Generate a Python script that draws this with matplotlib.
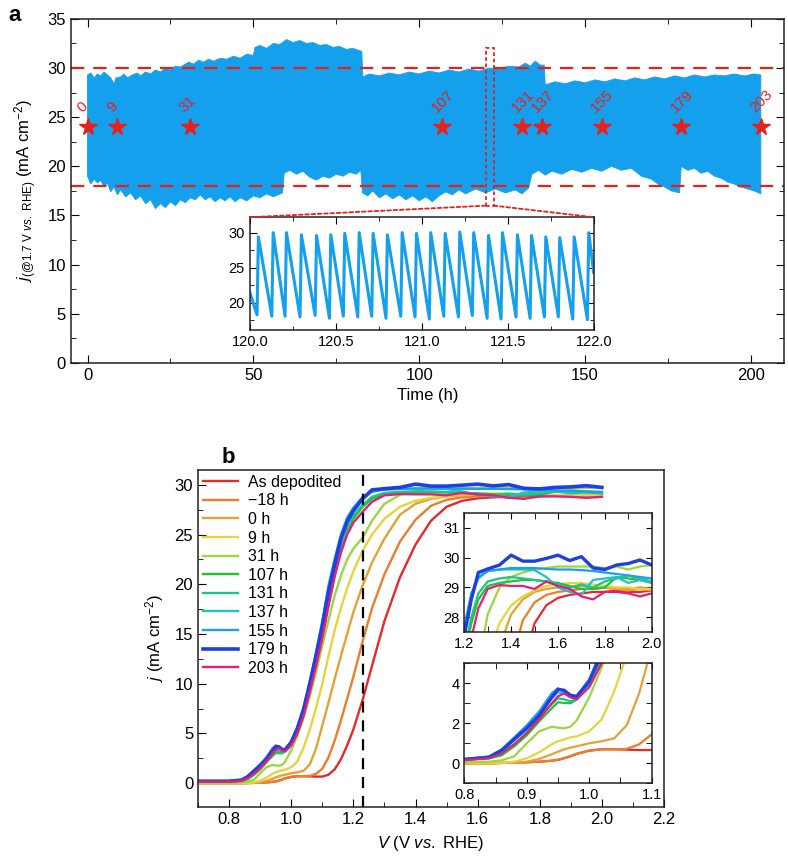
import matplotlib
matplotlib.use("Agg")
import matplotlib.pyplot as plt
from matplotlib.patches import Rectangle, ConnectionPatch
from matplotlib.ticker import MultipleLocator, FormatStrFormatter

plt.rcParams['font.family'] = ['Liberation Sans', 'DejaVu Sans']
plt.rcParams['mathtext.fontset'] = 'custom'
plt.rcParams['mathtext.rm'] = 'Liberation Sans'
plt.rcParams['mathtext.it'] = 'Liberation Sans:italic'
plt.rcParams['mathtext.bf'] = 'Liberation Sans:bold'
plt.rcParams['axes.linewidth'] = 1.1
plt.rcParams['axes.edgecolor'] = '#222222'

# ---------------- panel a : long-term test ----------------
# upper / lower envelope of the oscillating current (h, mA cm-2)
up_t = [0, 1, 2, 3, 4, 5, 6, 7, 8, 8.6, 10, 11, 12, 13.5, 15, 16, 17.5, 19, 20.5, 22,
        23.5, 25, 26.5, 28, 29.5, 30.5, 32, 33.5, 35, 36.5, 38, 40, 42, 44, 46, 48, 50, 50.5, 52, 54,
        56, 58, 60, 62, 64, 66, 68, 70, 72, 74, 76, 78, 80, 82.7, 83, 85, 88, 91, 94, 97,
        100, 103, 106, 109, 112, 115, 118, 121, 124, 127, 130, 132, 133.5, 135, 136.5, 137.7, 138, 141, 144, 147,
        150, 153, 156, 159, 162, 165, 168, 171, 174, 177, 180, 183, 186, 189, 192, 195, 198, 201, 203]
up_j = [29.3, 29.5, 29.0, 29.4, 29.2, 29.6, 29.3, 29.0, 28.4, 29.0, 29.1, 29.4, 29.0, 29.3, 29.5, 29.2, 29.6, 29.4, 29.8, 29.6,
        30.0, 29.8, 30.2, 30.1, 30.4, 30.6, 30.4, 30.8, 30.6, 30.9, 30.7, 31.0, 30.9, 31.2, 31.0, 31.4, 31.3, 32.1, 32.3, 32.0,
        32.5, 32.4, 32.9, 32.6, 32.8, 32.5, 32.6, 32.3, 32.4, 32.1, 32.2, 31.9, 32.0, 31.7, 29.1, 29.4, 29.2, 29.5, 29.3, 29.6,
        29.4, 29.7, 29.5, 29.8, 29.6, 29.9, 29.7, 30.0, 29.9, 30.2, 30.1, 30.5, 30.2, 30.7, 30.3, 30.3, 28.3, 28.6, 28.4, 28.7,
        28.5, 28.8, 28.6, 28.9, 28.7, 29.0, 28.8, 29.1, 28.9, 29.2, 29.0, 29.3, 29.1, 29.3, 29.2, 29.4, 29.2, 29.4, 29.3]
low_t = [0, 1, 2, 3, 4, 5, 6, 7, 8, 9, 10, 11.5, 13, 14.5, 16, 17.5, 19, 20.5, 22, 23.5,
         25, 26.5, 28, 29.5, 31, 32.5, 34, 35.5, 37, 38.5, 40, 41.5, 43, 44.5, 46, 48, 50, 52, 54, 56,
         58.8, 59.3, 61, 63, 65, 67, 69, 71, 73, 75, 77, 79, 81, 82.4, 82.9, 84.5, 86, 88, 90, 92,
         94, 96, 98, 100, 102, 104, 106, 108, 110, 112, 114, 117, 120, 123, 126, 129, 131, 133, 134, 136,
         138, 140, 143, 146, 149, 152, 155, 158, 161, 164, 167, 170, 172, 174, 176, 178.5, 179, 181, 183, 185,
         187, 189, 191, 193, 195, 197, 199, 201, 203]
low_j = [19.0, 18.2, 18.7, 18.3, 18.6, 17.9, 18.3, 17.4, 17.9, 17.1, 17.6, 16.9, 17.3, 16.6, 17.0, 16.2, 16.6, 15.7, 16.2, 15.8,
         16.4, 16.0, 16.6, 16.3, 16.8, 16.6, 17.1, 16.6, 16.9, 16.4, 16.8, 16.5, 16.9, 16.4, 16.8, 16.5, 17.0, 16.8, 17.2, 16.9,
         17.3, 19.3, 19.6, 19.2, 19.5, 18.9, 18.6, 19.0, 18.8, 19.2, 19.0, 19.4, 19.2, 19.6, 17.3, 17.0, 17.5, 16.8, 17.2, 16.7,
         17.1, 16.6, 17.0, 16.5, 16.9, 16.4, 17.0, 17.4, 17.1, 17.6, 17.2, 17.7, 17.3, 17.7, 17.3, 17.6, 17.2, 17.8, 19.2, 19.6,
         19.1, 19.5, 19.2, 19.7, 19.4, 19.8, 19.5, 20.0, 19.6, 19.8, 19.0, 18.7, 18.2, 17.9, 17.5, 17.3, 20.0, 19.6, 19.8, 19.3,
         19.5, 19.0, 18.8, 18.4, 18.2, 17.9, 17.7, 17.5, 17.2]

star_times = [0, 9, 31, 107, 131, 137, 155, 179, 203]
star_level = 24
limit_hi = 30
limit_lo = 18

# zoomed cycles 120-122 h
trough_t = [120.042, 120.128, 120.205, 120.292, 120.380, 120.463, 120.544, 120.628, 120.709, 120.792, 120.878, 120.961,
            121.044, 121.128, 121.213, 121.294, 121.380, 121.461, 121.548, 121.630, 121.713, 121.794, 121.878, 121.963]
trough_j = [18.3, 18.1, 18.1, 18.0, 18.2, 17.8, 18.1, 18.0, 18.1, 17.8, 18.1, 18.0,
            17.7, 18.1, 18.0, 18.2, 17.8, 17.7, 18.0, 17.8, 18.0, 18.0, 17.7, 17.6]
peak_t = [120.050, 120.136, 120.213, 120.300, 120.388, 120.471, 120.552, 120.636, 120.717, 120.800, 120.886, 120.969,
          121.052, 121.136, 121.221, 121.302, 121.388, 121.469, 121.556, 121.638, 121.721, 121.802, 121.886, 121.971]
peak_j = [29.4, 30.0, 30.0, 29.7, 29.6, 29.7, 29.9, 30.0, 29.9, 29.7, 30.0, 29.9,
          30.0, 29.9, 30.1, 30.0, 29.6, 30.0, 29.7, 29.6, 29.4, 29.3, 29.4, 30.0]
cycle_start = (120.0, 21.5)
cycle_end = (122.0, 24.3)

# ---------------- panel b : polarisation curves ----------------
V = [0.70, 0.80, 0.84, 0.86, 0.88, 0.90, 0.92, 0.94, 0.95, 0.96,
     0.97, 0.98, 1.00, 1.02, 1.04, 1.06, 1.08, 1.10, 1.12, 1.14,
     1.16, 1.18, 1.20, 1.23, 1.26, 1.30, 1.35, 1.40, 1.45, 1.50,
     1.55, 1.60, 1.65, 1.70, 1.75, 1.80, 1.85, 1.90, 1.95, 2.00]

j_asdep = [0.00, 0.00, 0.00, 0.02, 0.03, 0.05, 0.08, 0.13, 0.17, 0.25,
           0.35, 0.47, 0.63, 0.70, 0.70, 0.68, 0.66, 0.66, 0.85, 1.40,
           2.40, 3.80, 5.40, 8.40, 11.8, 16.3, 20.7, 24.0, 26.4, 27.8,
           28.4, 28.65, 28.75, 28.8, 28.85, 28.85, 28.9, 28.85, 28.85, 28.9]
j_m18 = [0.00, 0.00, 0.00, 0.02, 0.03, 0.05, 0.08, 0.13, 0.18, 0.26,
         0.36, 0.48, 0.64, 0.70, 0.70, 0.72, 0.95, 1.45, 2.6, 4.3,
         6.3, 8.5, 10.7, 14.3, 17.6, 21.0, 24.3, 26.5, 27.9, 28.5,
         28.75, 28.85, 28.9, 28.95, 28.95, 29.0, 28.95, 28.95, 29.0, 28.95]
j_0 = [0.00, 0.00, 0.00, 0.01, 0.03, 0.08, 0.22, 0.45, 0.58, 0.70,
       0.78, 0.85, 1.00, 1.10, 1.25, 1.90, 3.50, 5.80, 8.1, 10.5,
       12.8, 15.0, 17.2, 19.9, 22.2, 24.6, 27.0, 28.1, 28.6, 28.85,
       28.95, 29.0, 29.0, 29.05, 29.0, 29.0, 28.95, 28.9, 28.95, 28.9]
j_9 = [0.00, 0.00, 0.00, 0.02, 0.08, 0.25, 0.55, 0.95, 1.10, 1.20,
       1.30, 1.35, 1.60, 2.20, 3.60, 5.40, 7.60, 10.0, 12.8, 15.4,
       17.6, 19.6, 21.3, 23.4, 25.0, 26.6, 27.8, 28.4, 28.7, 28.9,
       29.05, 29.1, 29.15, 29.15, 29.1, 29.05, 29.0, 29.0, 28.95, 28.95]
j_31 = [0.05, 0.05, 0.08, 0.15, 0.35, 1.00, 1.60, 1.83, 1.78, 1.75,
        1.83, 2.15, 3.30, 4.80, 6.60, 8.80, 11.2, 13.8, 16.4, 18.9,
        20.9, 22.5, 23.6, 24.7, 26.4, 28.1, 29.0, 29.35, 29.5, 29.6,
        29.65, 29.7, 29.7, 29.7, 29.7, 29.65, 29.7, 29.6, 29.7, 29.75]
j_107 = [0.20, 0.20, 0.25, 0.40, 0.85, 1.40, 2.10, 2.75, 3.05, 3.02,
         3.00, 3.20, 3.85, 5.20, 7.00, 9.40, 12.0, 14.8, 18.0, 21.0,
         23.5, 25.3, 26.6, 27.8, 28.6, 29.05, 29.15, 29.2, 29.25, 29.25,
         29.2, 29.15, 29.05, 28.95, 28.95, 29.0, 29.35, 29.3, 29.25, 29.15]
j_131 = [0.20, 0.20, 0.27, 0.50, 0.95, 1.55, 2.30, 2.95, 3.25, 3.20,
         3.10, 3.20, 3.95, 5.30, 7.20, 9.60, 12.3, 15.2, 18.4, 21.3,
         23.8, 25.6, 26.9, 28.0, 28.8, 29.2, 29.3, 29.35, 29.3, 29.25,
         29.2, 29.1, 29.0, 29.1, 29.0, 29.2, 29.3, 29.4, 29.3, 29.2]
j_137 = [0.20, 0.20, 0.30, 0.60, 1.15, 1.75, 2.45, 3.25, 3.55, 3.50,
         3.30, 3.25, 4.05, 5.50, 7.50, 10.1, 13.0, 16.0, 19.6, 22.4,
         24.8, 26.6, 27.6, 28.7, 29.3, 29.55, 29.6, 29.6, 29.6, 29.58,
         29.35, 29.0, 28.85, 28.75, 29.25, 29.3, 29.35, 29.15, 29.25, 29.2]
j_155 = [0.20, 0.20, 0.35, 0.70, 1.30, 1.90, 2.60, 3.50, 3.75, 3.60,
         3.35, 3.35, 4.20, 5.70, 7.70, 10.3, 13.2, 16.3, 19.9, 22.6,
         25.0, 26.7, 27.7, 28.8, 29.35, 29.55, 29.6, 29.65, 29.65, 29.65,
         29.62, 29.6, 29.6, 29.58, 29.55, 29.5, 29.45, 29.4, 29.35, 29.3]
j_179 = [0.20, 0.20, 0.30, 0.65, 1.20, 1.75, 2.40, 3.30, 3.70, 3.65,
         3.40, 3.35, 4.10, 5.50, 7.40, 10.0, 12.8, 15.8, 19.2, 22.0,
         24.6, 26.3, 27.4, 28.6, 29.5, 29.62, 29.75, 30.08, 29.88, 29.88,
         29.97, 30.08, 29.9, 30.03, 29.65, 29.6, 29.75, 29.8, 29.92, 29.75]
j_203 = [0.15, 0.15, 0.25, 0.50, 0.95, 1.50, 2.20, 3.00, 3.35, 3.50,
         3.30, 3.20, 3.80, 5.00, 6.80, 9.20, 11.8, 14.6, 17.8, 20.8,
         23.2, 25.0, 26.2, 27.3, 28.3, 28.95, 29.08, 29.05, 29.05, 28.95,
         29.2, 29.05, 28.95, 28.7, 28.6, 28.85, 28.85, 28.8, 28.7, 28.8]

curve_labels = ['As depodited', '\u221218 h', '0 h', '9 h', '31 h', '107 h',
                '131 h', '137 h', '155 h', '179 h', '203 h']
curve_data = [j_asdep, j_m18, j_0, j_9, j_31, j_107, j_131, j_137, j_155, j_179, j_203]
curve_colors = ['#e8282c', '#ee7c2c', '#e3a234', '#e6d43c', '#9cd640', '#22c42c',
                '#1fc28c', '#22c2c4', '#1c9fe6', '#1f3fe0', '#e2207c']

blue = '#14a0ec'
red = '#e8201c'

fig = plt.figure(figsize=(7.88, 8.6), dpi=100)

# ---- panel a
ax = fig.add_axes([0.090, 0.578, 0.905, 0.400])
ax.fill(up_t + low_t[::-1], up_j + low_j[::-1], color=blue, lw=0.6, ec=blue)
ax.axhline(limit_hi, color=red, ls=(0, (6, 4)), lw=1.6)
ax.axhline(limit_lo, color=red, ls=(0, (6, 4)), lw=1.6)
ax.plot(star_times, [star_level] * len(star_times), ls='none', marker='*',
        ms=13, color=red, mec=red)
for t in star_times:
    ax.text(t - 1.0, star_level + 1.2, str(t), color=red, fontsize=11,
            rotation=45, rotation_mode='anchor', ha='left', va='bottom')
ax.add_patch(Rectangle((120.0, 16.0), 2.5, 16.0, fill=False, ec=red,
                       lw=1.3, ls=(0, (2, 1.5))))
ax.set_xlim(-5, 210)
ax.set_ylim(0, 35)
ax.xaxis.set_major_locator(MultipleLocator(50))
ax.xaxis.set_minor_locator(MultipleLocator(25))
ax.yaxis.set_major_locator(MultipleLocator(5))
ax.yaxis.set_minor_locator(MultipleLocator(2.5))
ax.tick_params(which='both', direction='in', top=True, right=True, labelsize=12)
ax.tick_params(which='major', length=6)
ax.tick_params(which='minor', length=3.5)
ax.set_xlabel('Time (h)', fontsize=12, labelpad=4)
ax.set_ylabel(r'$j_{\mathrm{(@1.7\ V\ }\mathit{vs.}\mathrm{\ RHE)}}$ (mA cm$^{-2}$)',
              fontsize=12, labelpad=6)
fig.text(0.010, 0.982, 'a', fontsize=16, fontweight='bold', va='center')

# inset of panel a
axi = fig.add_axes([0.317, 0.616, 0.4365, 0.1314])
cyc_t = [cycle_start[0]]
cyc_j = [cycle_start[1]]
for tt, jt, tp, jp in zip(trough_t, trough_j, peak_t, peak_j):
    cyc_t += [tt, tp]
    cyc_j += [jt, jp]
cyc_t.append(cycle_end[0])
cyc_j.append(cycle_end[1])
axi.plot(cyc_t, cyc_j, color=blue, lw=2.2)
axi.set_xlim(120, 122)
axi.set_ylim(16.1, 32.2)
axi.xaxis.set_major_locator(MultipleLocator(0.5))
axi.xaxis.set_minor_locator(MultipleLocator(0.25))
axi.xaxis.set_major_formatter(FormatStrFormatter('%.1f'))
axi.yaxis.set_major_locator(MultipleLocator(5))
axi.yaxis.set_minor_locator(MultipleLocator(2.5))
axi.tick_params(which='both', direction='in', top=True, right=True, labelsize=10.5)
axi.tick_params(which='major', length=5)
axi.tick_params(which='minor', length=3)
for xa, xb in [((120.0, 16.0), (0, 1)), ((122.5, 16.0), (1, 1))]:
    con = ConnectionPatch(xyA=xa, coordsA=ax.transData, xyB=xb,
                          coordsB=axi.transAxes, color=red, lw=1.3,
                          ls=(0, (2, 1.5)))
    fig.add_artist(con)

# ---- panel b
bx = fig.add_axes([0.2513, 0.0616, 0.5914, 0.3919])
for lab, jj, col in zip(curve_labels, curve_data, curve_colors):
    lw = 2.6 if lab == '179 h' else 1.7
    bx.plot(V, jj, color=col, lw=lw, label=lab)
bx.axvline(1.23, color='black', ls=(0, (5, 3.5)), lw=1.6)
bx.set_xlim(0.7, 2.2)
bx.set_ylim(-2.4, 31.5)
bx.xaxis.set_major_locator(MultipleLocator(0.2))
bx.xaxis.set_minor_locator(MultipleLocator(0.1))
bx.xaxis.set_major_formatter(FormatStrFormatter('%.1f'))
bx.yaxis.set_major_locator(MultipleLocator(5))
bx.yaxis.set_minor_locator(MultipleLocator(2.5))
bx.tick_params(which='both', direction='in', labelsize=12)
bx.tick_params(which='major', length=6)
bx.tick_params(which='minor', length=3.5)
bx.set_xlabel(r'$V$ (V $vs.$ RHE)', fontsize=12, labelpad=5)
bx.set_ylabel(r'$j$ (mA cm$^{-2}$)', fontsize=12, labelpad=6)
bx.legend(loc='upper left', frameon=False, fontsize=11.5, handlelength=2.2,
          handletextpad=0.6, labelspacing=0.225, borderaxespad=0.0,
          borderpad=0.3, bbox_to_anchor=(0.0, 1.0))
fig.text(0.281, 0.468, 'b', fontsize=16, fontweight='bold', va='center')

# inset b top : plateau
bt = fig.add_axes([0.5892, 0.2648, 0.2378, 0.1390])
for lab, jj, col in zip(curve_labels, curve_data, curve_colors):
    lw = 2.4 if lab == '179 h' else 1.6
    bt.plot(V, jj, color=col, lw=lw)
bt.set_xlim(1.2, 2.0)
bt.set_ylim(27.5, 31.5)
bt.xaxis.set_major_locator(MultipleLocator(0.2))
bt.xaxis.set_minor_locator(MultipleLocator(0.1))
bt.xaxis.set_major_formatter(FormatStrFormatter('%.1f'))
bt.yaxis.set_major_locator(MultipleLocator(1))
bt.tick_params(which='both', direction='in', top=True, right=True, labelsize=10.5)
bt.tick_params(which='major', length=4)
bt.tick_params(which='minor', length=4)

# inset b bottom : pre-oxidation
bb = fig.add_axes([0.5892, 0.0892, 0.2378, 0.1395])
for lab, jj, col in zip(curve_labels, curve_data, curve_colors):
    lw = 2.4 if lab == '179 h' else 1.6
    bb.plot(V, jj, color=col, lw=lw)
bb.set_xlim(0.8, 1.1)
bb.set_ylim(-1, 5)
bb.xaxis.set_major_locator(MultipleLocator(0.1))
bb.xaxis.set_minor_locator(MultipleLocator(0.05))
bb.xaxis.set_major_formatter(FormatStrFormatter('%.1f'))
bb.yaxis.set_major_locator(MultipleLocator(2))
bb.yaxis.set_minor_locator(MultipleLocator(1))
bb.tick_params(which='both', direction='in', top=True, right=True, labelsize=10.5)
bb.tick_params(which='major', length=4)
bb.tick_params(which='minor', length=4)

fig.savefig('out.png', dpi=100)
